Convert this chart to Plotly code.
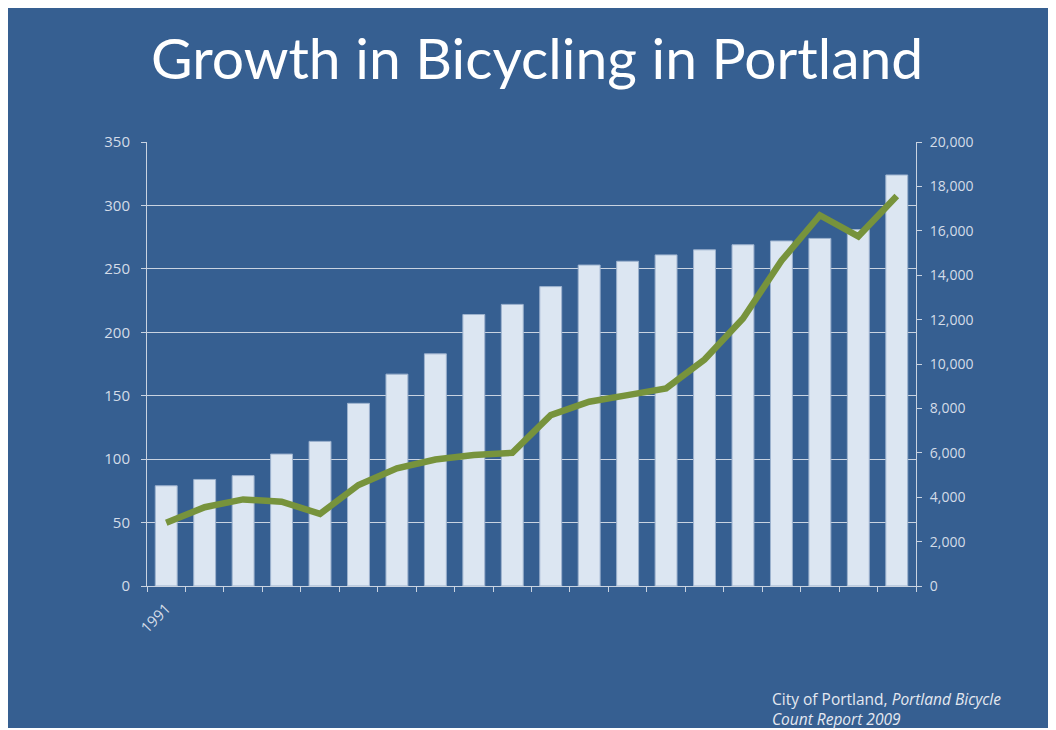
import plotly.graph_objects as go

years = [1991, 1992, 1993, 1994, 1995, 1996, 1997, 1998, 1999, 2000,
         2001, 2002, 2003, 2004, 2005, 2006, 2007, 2008, 2009, 2010]
bar_values = [79, 84, 87, 104, 114, 144, 167, 183, 214, 222,
              236, 253, 256, 261, 265, 269, 272, 274, 281, 324]
line_values = [2850, 3550, 3900, 3800, 3250, 4550, 5300, 5700, 5900, 6000,
               7700, 8300, 8600, 8900, 10200, 12050, 14650, 16700, 15750, 17570]
left_ticks = [0, 50, 100, 150, 200, 250, 300, 350]
right_ticks = [0, 2000, 4000, 6000, 8000, 10000, 12000, 14000, 16000, 18000, 20000]

BG = "#365F91"
TICK_COLOR = "#D4DCE8"
x_idx = list(range(len(years)))

fig = go.Figure()
fig.add_trace(go.Bar(
    x=x_idx, y=bar_values, marker=dict(color="#DCE6F2", line=dict(color="#9DB2CE", width=1)),
    width=0.57, showlegend=False, hoverinfo="skip"))
fig.add_trace(go.Scatter(
    x=x_idx, y=line_values, yaxis="y2", mode="lines",
    line=dict(color="#77933C", width=6.5), showlegend=False, hoverinfo="skip"))

# page body has an 8px margin: work in screen pixels, shift by OFF
OFF = 8
W, H = 1056 - OFF, 730 - OFF
L, T = 147 - OFF, 142 - OFF
R = W - (916 - OFF)
B = H - (586 - OFF)
pw, ph = W - L - R, H - T - B

def px_x(p):
    return (p - OFF - L) / pw

def px_y(p):
    return (H - B - (p - OFF)) / ph

fig.update_layout(
    width=W, height=H,
    margin=dict(l=L, r=R, t=T, b=B),
    paper_bgcolor="white",
    plot_bgcolor="rgba(0,0,0,0)",
    font=dict(family="Open Sans", color=TICK_COLOR, size=14),
    bargap=0.43,
    xaxis=dict(
        range=[-0.5, len(years) - 0.5],
        tickvals=[0], ticktext=[str(years[0])], tickangle=-45,
        ticks="", showgrid=False, zeroline=False,
        showline=True, linecolor="#C9D3E1", linewidth=1,
        minor=dict(tick0=-0.5, dtick=1, ticks="outside", ticklen=5, tickcolor="#C9D3E1", showgrid=False),
        tickfont=dict(size=15, color=TICK_COLOR),
        ticklabelstandoff=7,
    ),
    yaxis=dict(
        range=[0, 350], tickvals=left_ticks,
        showgrid=True, gridcolor="#C9D3E1", gridwidth=1,
        zeroline=False, showline=True, linecolor="#C9D3E1", linewidth=1,
        ticks="outside", ticklen=5, tickcolor="#C9D3E1",
        tickfont=dict(size=15, color=TICK_COLOR),
        ticklabelstandoff=8,
    ),
    yaxis2=dict(
        range=[0, 20000], tickvals=right_ticks, overlaying="y", side="right",
        tickformat=",d", showgrid=False, zeroline=False,
        showline=True, linecolor="#C9D3E1", linewidth=1,
        ticks="outside", ticklen=5, tickcolor="#C9D3E1",
        tickfont=dict(size=14, color=TICK_COLOR),
        ticklabelstandoff=5,
    ),
    shapes=[dict(type="rect", xref="paper", yref="paper",
                 x0=px_x(5), x1=px_x(1055), y0=px_y(728), y1=px_y(5),
                 fillcolor=BG, line=dict(width=0), layer="below")],
    annotations=[
        dict(text="Growth in Bicycling in Portland", xref="paper", yref="paper",
             x=px_x(537), y=px_y(57), xanchor="center", yanchor="middle",
             showarrow=False, font=dict(family="Lato", size=57, color="white")),
        dict(text="City of Portland, <i>Portland Bicycle</i><br><i>Count Report 2009</i>",
             xref="paper", yref="paper", x=px_x(770), y=px_y(686),
             xanchor="left", yanchor="top", align="left", showarrow=False,
             font=dict(family="Open Sans", size=15.5, color="#E4E8F0")),
    ],
)

fig.write_html("out.html")
